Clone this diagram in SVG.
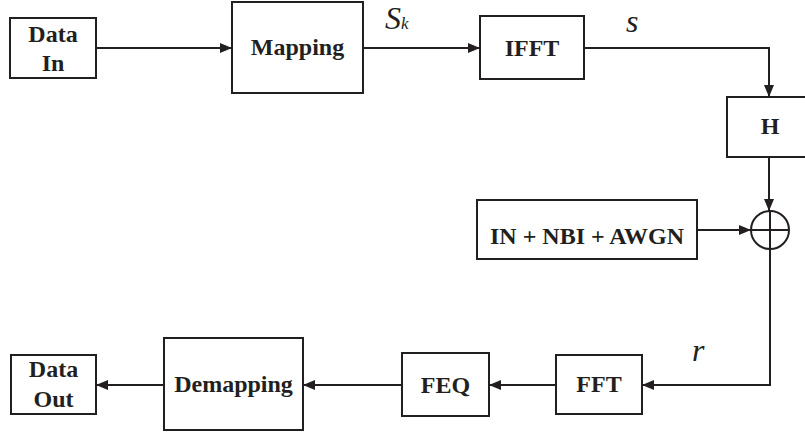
<svg xmlns="http://www.w3.org/2000/svg" width="805" height="434" viewBox="0 0 805 434">
<style>
.box{fill:#fff;stroke:#231f20;stroke-width:2}
.lbl{font-family:"Liberation Serif","Times New Roman",serif;font-weight:bold;font-size:24px;fill:#231f20;text-anchor:middle}
.it{font-family:"Liberation Serif","Times New Roman",serif;font-style:italic;fill:#231f20}
.ln{fill:none;stroke:#231f20;stroke-width:2}
</style>
<defs>
<marker id="ah" viewBox="0 0 12 10" refX="12" refY="5" markerWidth="12" markerHeight="10" markerUnits="userSpaceOnUse" orient="auto">
<path d="M0,0 L12,5 L0,10 Z" fill="#231f20"/>
</marker>
</defs>
<rect width="805" height="434" fill="#fff"/>
<g id="connectors">
<line class="ln" x1="96" y1="48" x2="232" y2="48" marker-end="url(#ah)"/>
<line class="ln" x1="363" y1="48" x2="480" y2="48" marker-end="url(#ah)"/>
<polyline class="ln" points="584,48 769,48 769,97" marker-end="url(#ah)"/>
<line class="ln" x1="769" y1="157" x2="769" y2="211" marker-end="url(#ah)"/>
<line class="ln" x1="697" y1="230" x2="751" y2="230" marker-end="url(#ah)"/>
<polyline class="ln" points="770,249 770,385 642,385" marker-end="url(#ah)"/>
<line class="ln" x1="556" y1="385" x2="489" y2="385" marker-end="url(#ah)"/>
<line class="ln" x1="402" y1="385" x2="303" y2="385" marker-end="url(#ah)"/>
<line class="ln" x1="164" y1="385" x2="96" y2="385" marker-end="url(#ah)"/>
</g>
<g id="label-sk">
<text class="it" x="385" y="29" font-size="32">S</text>
<text class="it" x="401" y="29" font-size="17">k</text>
</g>
<text id="label-s" class="it" x="626" y="32" font-size="32">s</text>
<text id="label-r" class="it" x="692" y="361" font-size="32">r</text>
<g id="data-in">
<rect class="box" x="10" y="18" width="86" height="60"/>
<text class="lbl" x="53" y="42">Data</text>
<text class="lbl" x="53" y="71">In</text>
</g>
<g id="mapping">
<rect class="box" x="232" y="2" width="131" height="91"/>
<text class="lbl" x="297.5" y="55">Mapping</text>
</g>
<g id="ifft">
<rect class="box" x="480" y="16" width="104" height="63"/>
<text class="lbl" x="532" y="56">IFFT</text>
</g>
<g id="h">
<rect class="box" x="727" y="97" width="86" height="60"/>
<text class="lbl" x="770" y="134">H</text>
</g>
<g id="noise">
<rect class="box" x="477" y="200" width="220" height="59"/>
<text class="lbl" x="587" y="244" font-size="25">IN + NBI + AWGN</text>
</g>
<g id="adder">
<circle class="box" cx="770" cy="230" r="19"/>
<line class="ln" x1="751" y1="230" x2="789" y2="230"/>
<line class="ln" x1="770" y1="211" x2="770" y2="249"/>
</g>
<g id="fft">
<rect class="box" x="556" y="355" width="86" height="59"/>
<text class="lbl" x="599" y="392">FFT</text>
</g>
<g id="feq">
<rect class="box" x="402" y="353" width="87" height="63"/>
<text class="lbl" x="445.5" y="393">FEQ</text>
</g>
<g id="demapping">
<rect class="box" x="164" y="338" width="139" height="92"/>
<text class="lbl" x="233.5" y="392">Demapping</text>
</g>
<g id="data-out">
<rect class="box" x="11" y="355" width="85" height="59"/>
<text class="lbl" x="53.5" y="377">Data</text>
<text class="lbl" x="53.5" y="407">Out</text>
</g>
</svg>
